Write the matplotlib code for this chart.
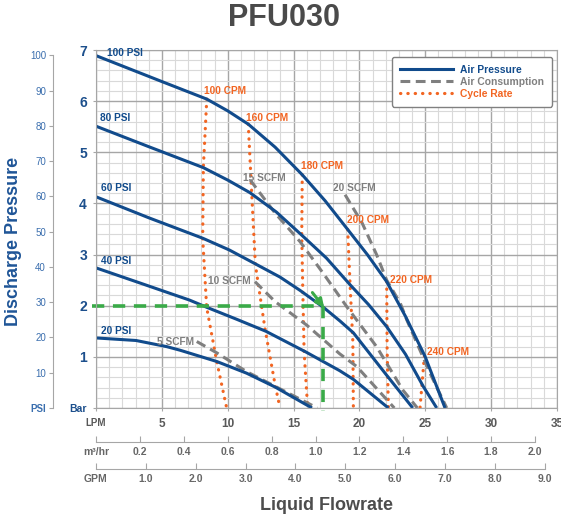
import matplotlib
matplotlib.use("Agg")
import matplotlib.pyplot as plt

plt.rcParams['font.family'] = ['Liberation Sans', 'DejaVu Sans']

# air pressure curves (LPM, bar)
psi100_x = [0, 5.03, 8.41, 10.0, 11.56, 13.6, 15.66, 17.4, 19.11, 20.6, 22.07, 23.5, 24.98, 26.5]
psi100_y = [6.89, 6.38, 6.04, 5.81, 5.55, 5.10, 4.56, 4.05, 3.49, 3.0, 2.47, 1.79, 1.01, 0]
psi80_x = [0, 4.0, 8.15, 10.05, 11.69, 13.7, 15.62, 17.5, 19.29, 20.7, 22.07, 23.5, 24.85, 25.87]
psi80_y = [5.51, 5.11, 4.70, 4.45, 4.21, 3.83, 3.38, 2.93, 2.41, 2.02, 1.59, 1.05, 0.42, 0]
psi60_x = [0, 4.0, 8.1, 10.12, 11.94, 13.97, 15.49, 17.26, 18.53, 19.54, 22.07, 24.05]
psi60_y = [4.13, 3.72, 3.32, 3.09, 2.84, 2.56, 2.30, 1.97, 1.70, 1.47, 0.64, 0]
psi40_x = [0, 3.5, 7.1, 8.4, 10.63, 12.9, 15.9, 18.5, 19.54, 22.2]
psi40_y = [2.74, 2.43, 2.11, 1.97, 1.74, 1.50, 1.10, 0.73, 0.56, 0]
psi20_x = [0, 3.04, 5.37, 6.38, 9.16, 11.44, 13.6, 16.4]
psi20_y = [1.37, 1.32, 1.20, 1.13, 0.91, 0.68, 0.41, 0]

# cycle rate curves
cpm100_x = [8.41, 8.15, 8.10, 8.4, 9.16, 9.92]
cpm100_y = [6.04, 4.70, 3.32, 1.97, 0.92, 0]
cpm160_x = [11.56, 11.82, 12.1, 12.83, 13.6, 13.97]
cpm160_y = [5.55, 4.21, 2.80, 1.55, 0.45, 0]
cpm180_x = [15.66, 15.62, 15.7, 15.8, 16.07]
cpm180_y = [4.56, 3.38, 2.3, 1.1, 0]
cpm200_x = [19.11, 19.29, 19.5, 19.54]
cpm200_y = [3.49, 2.41, 1.3, 0]
cpm220_x = [22.07, 22.1, 22.2]
cpm220_y = [2.47, 1.2, 0]
cpm240_x = [24.93, 24.6]
cpm240_y = [1.02, 0]

# air consumption curves
scfm5_x = [7.65, 9.16, 11.44, 16.8]
scfm5_y = [1.30, 1.08, 0.71, 0]
scfm10_x = [12.07, 13.6, 16.0, 18.5, 19.8, 22.65]
scfm10_y = [2.47, 2.08, 1.62, 1.06, 0.81, 0]
scfm15_x = [11.7, 13.6, 15.5, 17.26, 19.04, 21.3, 23.3, 24.4]
scfm15_y = [4.46, 3.81, 3.25, 2.63, 1.98, 1.20, 0.35, 0]
scfm20_x = [18.91, 20.2, 21.3, 22.07, 23.1, 23.6, 25.36, 26.63]
scfm20_y = [4.17, 3.62, 3.0, 2.50, 2.05, 1.72, 0.68, 0]

psi_labels = ['100 PSI', '80 PSI', '60 PSI', '40 PSI', '20 PSI']
psi_label_pos = [(0.85, 6.95), (0.3, 5.67), (0.38, 4.30), (0.38, 2.88), (0.38, 1.51)]
cpm_labels = ['100 CPM', '160 CPM', '180 CPM', '200 CPM', '220 CPM', '240 CPM']
cpm_label_pos = [(8.2, 6.19), (11.39, 5.68), (15.54, 4.73), (19.04, 3.68), (22.32, 2.50), (25.11, 1.09)]
scfm_labels = ['5 SCFM', '10 SCFM', '15 SCFM', '20 SCFM']
scfm_label_pos = [(4.61, 1.30), (8.5, 2.48), (11.16, 4.50), (18.02, 4.30)]

# example operating point
op_lpm = 17.2
op_bar = 2.0

BLUE = '#114b8c'
GREY = '#7f7f7f'
ORANGE = '#f26522'
GREEN = '#3aaa48'

fig = plt.figure(figsize=(5.61, 5.18), dpi=100)
ax = fig.add_axes([96 / 561, 110 / 518, 461 / 561, 358 / 518])
ax.set_xlim(0, 35)
ax.set_ylim(0, 7)

# grid
ax.set_xticks(range(0, 36, 5))
ax.set_xticks(range(0, 36), minor=True)
ax.set_yticks(range(0, 8))
ax.set_yticks([i * 0.2 for i in range(36)], minor=True)
ax.grid(which='minor', color='#d9d9d9', lw=0.8)
ax.grid(which='major', color='#a6a6a6', lw=1.0)
ax.set_axisbelow(True)
for s in ax.spines.values():
    s.set_color('#a6a6a6')
ax.tick_params(which='minor', length=0)
ax.tick_params(which='major', length=2, color='#a6a6a6')
ax.tick_params(axis='x', pad=5, labelsize=8.5, labelcolor='#595959')
ax.tick_params(axis='y', pad=4.5, labelsize=10, labelcolor='#1c4f8c')
ax.set_xticklabels(['LPM'] + [str(v) for v in range(5, 36, 5)], fontweight='bold')
ax.set_yticklabels(['Bar'] + [str(v) for v in range(1, 8)], fontweight='bold')
ax.get_xticklabels()[0].set_fontsize(7)
ax.get_yticklabels()[0].set_fontsize(7.5)

# curves
dots = dict(color=ORANGE, lw=2.3, ls=(0, (0.1, 2.2)), dash_capstyle='round')
for xs, ys in [(cpm100_x, cpm100_y), (cpm160_x, cpm160_y), (cpm180_x, cpm180_y),
               (cpm200_x, cpm200_y), (cpm220_x, cpm220_y), (cpm240_x, cpm240_y)]:
    ax.plot(xs, ys, **dots)
dashes = dict(color=GREY, lw=2.2, ls=(0, (3.2, 1.8)))
for xs, ys in [(scfm5_x, scfm5_y), (scfm10_x, scfm10_y), (scfm15_x, scfm15_y), (scfm20_x, scfm20_y)]:
    ax.plot(xs, ys, **dashes)
for xs, ys in [(psi100_x, psi100_y), (psi80_x, psi80_y), (psi60_x, psi60_y),
               (psi40_x, psi40_y), (psi20_x, psi20_y)]:
    ax.plot(xs, ys, color=BLUE, lw=2.2, solid_capstyle='butt', solid_joinstyle='round')

# operating point guide
ax.plot([-0.3, op_lpm], [op_bar, op_bar], color=GREEN, lw=2.6, ls=(0, (3.4, 2.4)), clip_on=False)
ax.plot([op_lpm, op_lpm], [op_bar, -0.06], color=GREEN, lw=2.6, ls=(0, (3.4, 2.4)), clip_on=False)
ax.annotate('', xy=(op_lpm + 0.25, op_bar - 0.08), xytext=(op_lpm - 0.9, op_bar + 0.3),
            arrowprops=dict(arrowstyle='-|>', color=GREEN, lw=2.2, mutation_scale=12))

# labels
for t, (x, y) in zip(psi_labels, psi_label_pos):
    ax.text(x, y, t, color=BLUE, fontsize=7.3, fontweight='bold', va='center')
for t, (x, y) in zip(cpm_labels, cpm_label_pos):
    ax.text(x, y, t, color=ORANGE, fontsize=7.3, fontweight='bold', va='center')
for t, (x, y) in zip(scfm_labels, scfm_label_pos):
    ax.text(x, y, t, color=GREY, fontsize=7.3, fontweight='bold', va='center')

# legend
ax.plot([], [], color=BLUE, lw=2.2, label='Air Pressure')
ax.plot([], [], color=GREY, lw=2.2, ls=(0, (3.2, 1.8)), label='Air Consumption')
ax.plot([], [], label='Cycle Rate', **dots)
leg = ax.legend(handles=ax.lines[-3:], loc='upper right', bbox_to_anchor=(552 / 561, 1 - 57 / 518),
                bbox_transform=fig.transFigure, borderaxespad=0, fancybox=True, framealpha=1,
                edgecolor='#808080', labelcolor='linecolor', handlelength=5.2,
                handletextpad=0.7, labelspacing=0.2, borderpad=0.75,
                prop={'weight': 'bold', 'size': 7.4})
leg.get_frame().set_linewidth(1.0)

# PSI axis
psi = ax.secondary_yaxis(-0.0933, functions=(lambda b: b * 14.5038, lambda p: p / 14.5038))
psi.set_yticks(range(0, 101, 10))
psi.set_yticklabels(['PSI'] + [str(v) for v in range(10, 101, 10)])
psi.spines['left'].set_bounds(0, 100)
psi.spines['left'].set_color('#a6a6a6')
psi.tick_params(length=3, color='#a6a6a6', labelsize=7, labelcolor='#3a6eae', pad=2)
psi.get_yticklabels()[0].set_fontweight('bold')

# m3/hr axis
m3 = ax.secondary_xaxis(-0.0941, functions=(lambda l: l * 0.06, lambda m: m / 0.06))
m3.set_xticks([i * 0.2 for i in range(11)])
m3.set_xticklabels(['m³/hr'] + ['%.1f' % (i * 0.2) for i in range(1, 11)], fontweight='bold')
m3.spines['bottom'].set_bounds(0, 2.0)
m3.spines['bottom'].set_color('#a6a6a6')
m3.tick_params(direction='in', length=4, color='#a6a6a6', labelsize=7.5, labelcolor='#666666', pad=3.5)

# GPM axis
gpm = ax.secondary_xaxis(-0.1704, functions=(lambda l: l / 3.7854, lambda g: g * 3.7854))
gpm.set_xticks(range(0, 10))
gpm.set_xticklabels(['GPM'] + ['%.1f' % v for v in range(1, 10)], fontweight='bold')
gpm.spines['bottom'].set_bounds(0, 9)
gpm.spines['bottom'].set_color('#a6a6a6')
gpm.tick_params(direction='in', length=4, color='#a6a6a6', labelsize=7.5, labelcolor='#666666', pad=3.5)

fig.text(284 / 561, 1 - 18 / 518, 'PFU030', ha='center', va='center',
         fontsize=22, fontweight='bold', color='#4a4a4a')
fig.text(326.7 / 561, 1 - 505 / 518, 'Liquid Flowrate', ha='center', va='center',
         fontsize=13, fontweight='bold', color='#4d4d4d')
fig.text(13.3 / 561, 1 - 241.7 / 518, 'Discharge Pressure', ha='center', va='center',
         rotation=90, fontsize=13, fontweight='bold', color='#1f5597')

fig.savefig('out.png', dpi=100)
